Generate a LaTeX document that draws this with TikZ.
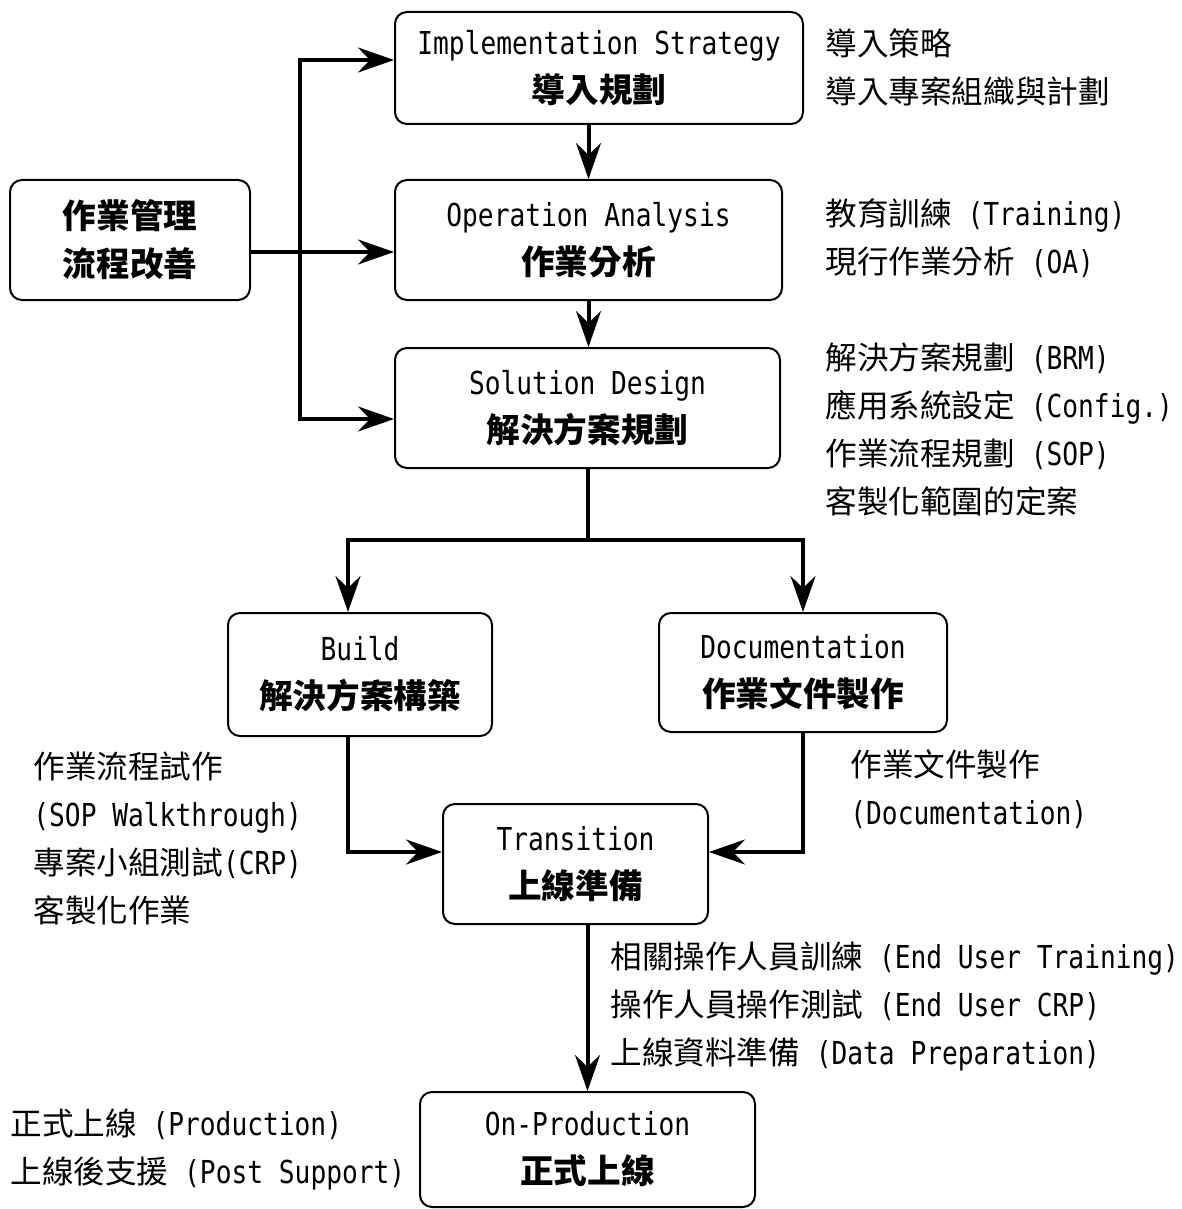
\documentclass[tikz,border=0pt]{standalone}
\usepackage{fontspec}
\setmainfont{DejaVu Sans Mono}[FakeStretch=0.83]
\newfontfamily\cjk{Noto Sans CJK TC}
\usetikzlibrary{arrows.meta}

\newcommand{\txtsize}{\fontsize{15.8pt}{24pt}\selectfont}
\newcommand{\zh}[1]{{\cjk #1}}
\newcommand{\zhb}[1]{{\cjk\bfseries\fontsize{16.8pt}{24pt}\selectfont #1}}

\begin{document}
\begin{tikzpicture}[x=0.5pt,
            y=-0.5pt,
            font=\txtsize,
            box/.style={draw, line width=1pt, rounded corners=6pt, align=center, inner sep=0pt},
            note/.style={anchor=west, align=left, inner sep=0pt},
            flow/.style={-{Stealth[length=18pt,width=12.5pt,inset=6pt]}, line width=2pt},
            trunk/.style={line width=2pt, line cap=rect}]

        \useasboundingbox (0,0) rectangle (1182,1209);

        % steps
        \node[box, minimum width=204pt,   minimum height=56pt]   (impl)   at (599,68)     {Implementation Strategy\\ \zhb{導入規劃}};
        \node[box, minimum width=120pt,   minimum height=60pt]   (lbox)   at (130,240)    {\zhb{作業管理}\\ \zhb{流程改善}};
        \node[box, minimum width=193.5pt, minimum height=60pt]   (oa)     at (588.5,240)  {Operation Analysis\\ \zhb{作業分析}};
        \node[box, minimum width=192.5pt, minimum height=60pt]   (sd)     at (587.5,408)  {Solution Design\\ \zhb{解決方案規劃}};
        \node[box, minimum width=132pt,   minimum height=61.5pt] (build)  at (360,674.5)  {Build\\ \zhb{解決方案構築}};
        \node[box, minimum width=144pt,   minimum height=59.5pt] (doc)    at (803,672.5)  {Documentation\\ \zhb{作業文件製作}};
        \node[box, minimum width=132.5pt, minimum height=60pt]   (trans)  at (575.5,864)  {Transition\\ \zhb{上線準備}};
        \node[box, minimum width=167.5pt, minimum height=57.5pt] (onprod) at (587.5,1149.5) {On-Production\\ \zhb{正式上線}};

        % notes
        \node[note] (implNote)  at (825,67.5)  {\zh{導入策略}\\ \zh{導入專案組織與計劃}};
        \node[note] (oaNote)    at (825,238.5) {\zh{教育訓練} (Training)\\ \zh{現行作業分析} (OA)};
        \node[note] (sdNote)    at (825,429.5) {\zh{解決方案規劃} (BRM)\\ \zh{應用系統設定} (Config.)\\ \zh{作業流程規劃} (SOP)\\ \zh{客製化範圍的定案}};
        \node[note] (buildNote) at (33,838)    {\zh{作業流程試作}\\ (SOP Walkthrough)\\ \zh{專案小組測試}(CRP)\\ \zh{客製化作業}};
        \node[note] (docNote)   at (850,789)   {\zh{作業文件製作}\\ (Documentation)};
        \node[note] (transNote) at (610,1006)  {\zh{相關操作人員訓練} (End User Training)\\ \zh{操作人員操作測試} (End User CRP)\\ \zh{上線資料準備} (Data Preparation)};
        \node[note] (prodNote)  at (10,1149)   {\zh{正式上線} (Production)\\ \zh{上線後支援} (Post Support)};

        \coordinate (jTop)  at (300,60);
        \coordinate (jBot)  at (300,419);
        \coordinate (lOut)  at (lbox.east |- 0,252);
        \coordinate (split) at (sd.south |- 0,540);

        \draw[trunk] (jTop) -- (jBot);
        \draw[flow]  (jTop) -- (jTop -| impl.west);
        \draw[flow]  (lOut) -- (lOut -| oa.west);
        \draw[flow]  (jBot) -- (jBot -| sd.west);
        \draw[flow]  (oa.north |- impl.south) -- (oa.north);
        \draw[flow]  (oa.south) -- (oa.south |- sd.north);
        \draw[trunk] (sd.south) -- (split);
        \draw[flow]  (split) -| ([xshift=-6pt]build.north);
        \draw[flow]  (split) -| (doc.north);
        \draw[flow]  ([xshift=-6pt]build.south) |- ([yshift=6pt]trans.west);
        \draw[flow]  (doc.south) |- ([yshift=6pt]trans.east);
        \draw[flow]  (onprod.north |- trans.south) -- (onprod.north);

\end{tikzpicture}
\end{document}
